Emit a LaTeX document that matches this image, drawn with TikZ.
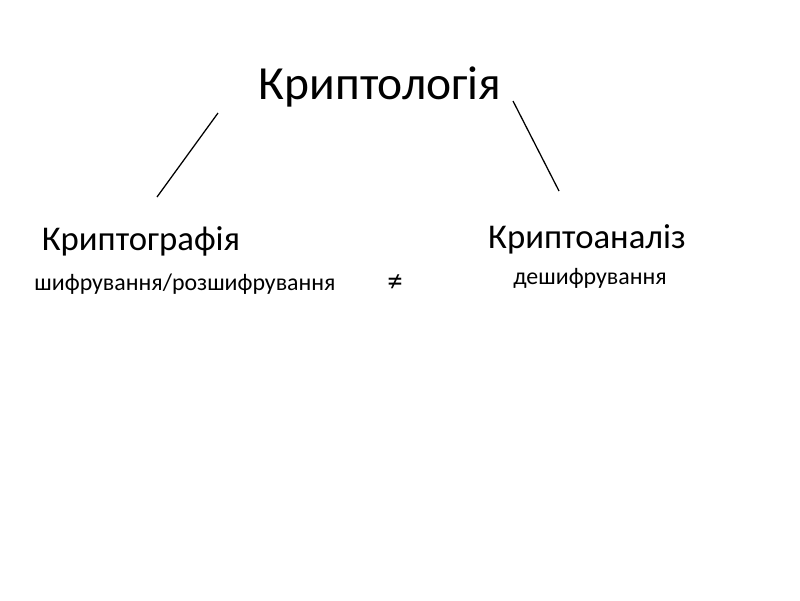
\documentclass[tikz,border=0pt]{standalone}
\usepackage{fontspec}
\setmainfont{Carlito}
\usetikzlibrary{positioning}

\begin{document}
\begin{tikzpicture}[x=0.025cm, y=-0.025cm,
    bigtitle/.style={inner sep=0pt, font=\fontsize{33.8}{38}\selectfont},
    branch/.style={inner sep=0pt, font=\fontsize{24.7}{28}\selectfont},
    gloss/.style={inner sep=0pt, font=\fontsize{17}{20}\selectfont}]
        \useasboundingbox (0,0) rectangle (800,600);
        \node[bigtitle] (crypto) at (380,87) {Криптологія};
        \node[branch] (graphy) at (141,241) {Криптографія};
        \node[branch] (analysis) at (587,239) {Криптоаналіз};
        \node[gloss] (encrypt) at (185,284) {шифрування/розшифрування};
        \node[gloss] (decipher) at (590,278) {дешифрування};
        \node[inner sep=0pt, font=\fontsize{22}{24}\selectfont] (noteq) at (395,283) {≠};
        % branch lines
        \coordinate (leftTop) at (218,113);
        \coordinate (leftEnd) at (157,197);
        \coordinate (rightTop) at (513,101);
        \coordinate (rightEnd) at (559,191);
        \draw[line width=0.9pt] (leftTop) -- (leftEnd);
        \draw[line width=0.9pt] (rightTop) -- (rightEnd);
    \end{tikzpicture}
\end{document}
